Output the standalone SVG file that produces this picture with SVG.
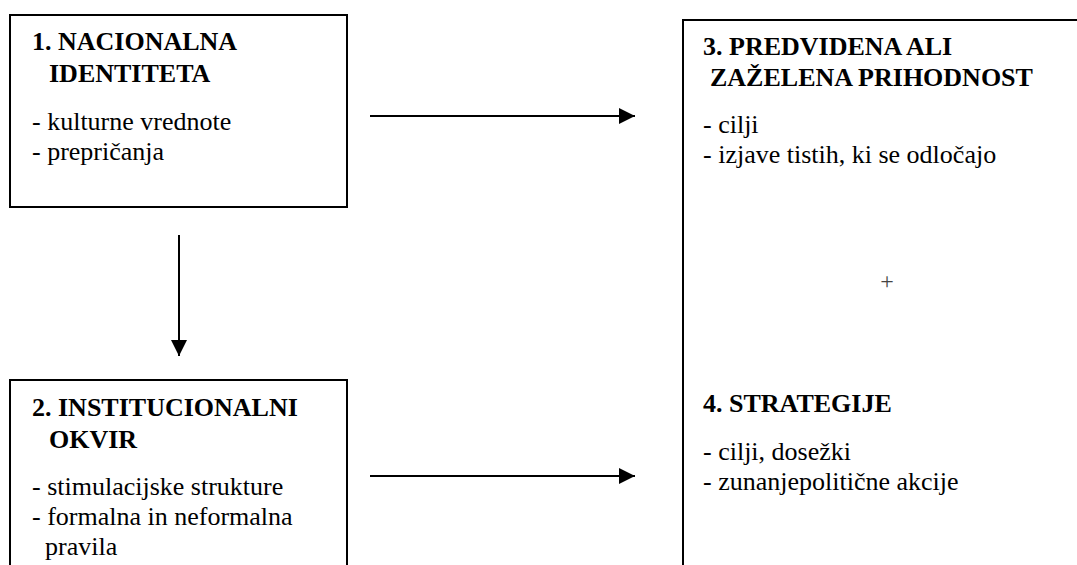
<svg xmlns="http://www.w3.org/2000/svg" width="1077" height="565" viewBox="0 0 1077 565">
<style>
.box{fill:#fff;stroke:#000;stroke-width:2}
.t{font-family:'Liberation Serif','Times New Roman',Times,'DejaVu Serif',serif;font-size:26px;fill:#000}
.b{font-weight:bold}
.conn{stroke:#000;stroke-width:2;fill:none}
</style>
<defs>
<marker id="ah" viewBox="0 0 16 16" refX="16" refY="8" markerWidth="16" markerHeight="16" markerUnits="userSpaceOnUse" orient="auto">
<path d="M0,0 L16,8 L0,16 Z" fill="#000"/>
</marker>
</defs>
<rect width="1077" height="565" fill="#fff"/>
<g id="node1" font-family="Liberation Serif, serif">
<rect class="box" x="10" y="15" width="337" height="192"/>
<text class="t b" x="32" y="50">1. NACIONALNA</text>
<text class="t b" x="49" y="82">IDENTITETA</text>
<text class="t" x="32" y="130">- kulturne vrednote</text>
<text class="t" x="32" y="160">- prepričanja</text>
</g>
<g id="node2">
<rect class="box" x="10" y="380" width="337" height="200"/>
<text class="t b" x="32" y="416">2. INSTITUCIONALNI</text>
<text class="t b" x="49" y="448">OKVIR</text>
<text class="t" x="32" y="495">- stimulacijske strukture</text>
<text class="t" x="32" y="525">- formalna in neformalna</text>
<text class="t" x="45" y="555">pravila</text>
</g>
<g id="node3">
<rect class="box" x="683" y="20" width="410" height="560"/>
<text class="t b" x="703" y="55">3. PREDVIDENA ALI</text>
<text class="t b" x="710" y="86">ZAŽELENA PRIHODNOST</text>
<text class="t" x="703" y="133">- cilji</text>
<text class="t" x="703" y="163">- izjave tistih, ki se odločajo</text>
<text class="t" x="887" y="289" text-anchor="middle" style="fill:#444;font-size:24px">+</text>
</g>
<g id="node4">
<text class="t b" x="703" y="412">4. STRATEGIJE</text>
<text class="t" x="703" y="460">- cilji, dosežki</text>
<text class="t" x="703" y="490">- zunanjepolitične akcije</text>
</g>
<g id="connectors">
<line class="conn" x1="370" y1="116" x2="635" y2="116" marker-end="url(#ah)"/>
<line class="conn" x1="370" y1="476" x2="635" y2="476" marker-end="url(#ah)"/>
<line class="conn" x1="179" y1="235" x2="179" y2="356" marker-end="url(#ah)"/>
</g>
</svg>
